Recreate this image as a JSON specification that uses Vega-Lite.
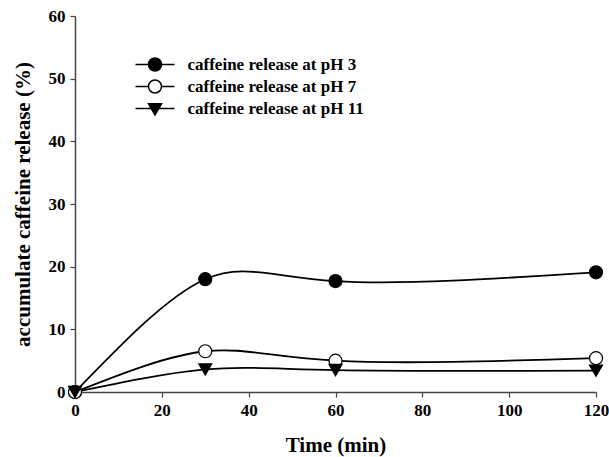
{
  "$schema": "https://vega.github.io/schema/vega-lite/v6.json",
  "width": 521,
  "height": 376,
  "autosize": "none",
  "padding": {"left": 75, "top": 16, "right": 13, "bottom": 65},
  "background": "white",
  "config": {
    "view": {"stroke": null},
    "font": "Liberation Serif",
    "axis": {
      "domainColor": "#444",
      "domainWidth": 1.5,
      "tickColor": "#444",
      "tickWidth": 1.2,
      "tickSize": 5,
      "grid": false,
      "labelFlush": false,
      "labelFont": "Liberation Serif",
      "labelFontWeight": "bold",
      "labelFontSize": 17,
      "labelColor": "black",
      "titleFont": "Liberation Serif",
      "titleFontWeight": "bold",
      "titleFontSize": 21,
      "titleColor": "black"
    },
    "legend": {
      "orient": "none",
      "legendX": 71.5,
      "legendY": 40,
      "padding": 0,
      "symbolSize": 169,
      "symbolStrokeWidth": 1.5,
      "labelOffset": 24,
      "labelFont": "Liberation Serif",
      "labelFontWeight": "bold",
      "labelFontSize": 17,
      "labelColor": "black",
      "rowPadding": 3,
      "labelLimit": 400
    }
  },
  "data": {
    "values": [
      {"time": 0, "release": 0, "series": "caffeine release at pH 3"},
      {"time": 30, "release": 18.0, "series": "caffeine release at pH 3"},
      {"time": 60, "release": 17.7, "series": "caffeine release at pH 3"},
      {"time": 120, "release": 19.1, "series": "caffeine release at pH 3"},
      {"time": 0, "release": 0, "series": "caffeine release at pH 7"},
      {"time": 30, "release": 6.5, "series": "caffeine release at pH 7"},
      {"time": 60, "release": 5.0, "series": "caffeine release at pH 7"},
      {"time": 120, "release": 5.4, "series": "caffeine release at pH 7"},
      {"time": 0, "release": 0, "series": "caffeine release at pH 11"},
      {"time": 30, "release": 3.6, "series": "caffeine release at pH 11"},
      {"time": 60, "release": 3.5, "series": "caffeine release at pH 11"},
      {"time": 120, "release": 3.4, "series": "caffeine release at pH 11"}
    ]
  },
  "encoding": {
    "x": {
      "field": "time",
      "type": "quantitative",
      "scale": {"domain": [0, 120], "nice": false},
      "axis": {"values": [0, 20, 40, 60, 80, 100, 120], "title": "Time (min)", "labelPadding": 5, "titlePadding": 16}
    },
    "y": {
      "field": "release",
      "type": "quantitative",
      "scale": {"domain": [0, 60], "nice": false},
      "axis": {"values": [0, 10, 20, 30, 40, 50, 60], "title": "accumulate caffeine release (%)", "labelPadding": 5, "titlePadding": 15}
    }
  },
  "layer": [
    {
      "mark": {"type": "line", "interpolate": "natural", "color": "black", "strokeWidth": 1.8},
      "encoding": {"detail": {"field": "series"}}
    },
    {
      "mark": {"type": "point", "filled": true, "size": 169, "stroke": "black", "strokeWidth": 1.2, "opacity": 1},
      "encoding": {
        "shape": {
          "field": "series",
          "scale": {
            "domain": ["caffeine release at pH 3", "caffeine release at pH 7", "caffeine release at pH 11"],
            "range": ["circle", "circle", "triangle-down"]
          },
          "legend": null
        },
        "fill": {
          "field": "series",
          "scale": {
            "domain": ["caffeine release at pH 3", "caffeine release at pH 7", "caffeine release at pH 11"],
            "range": ["black", "white", "black"]
          },
          "legend": null
        }
      }
    },
    {
      "transform": [{"filter": {"field": "time", "lt": 0}}],
      "mark": {"type": "point", "filled": true, "size": 169, "stroke": "black", "strokeWidth": 1.5, "opacity": 1},
      "encoding": {
        "shape": {
          "field": "series",
          "scale": {
            "domain": ["caffeine release at pH 3", "caffeine release at pH 7", "caffeine release at pH 11"],
            "range": [
              "M-3,0L-1,0M1,0L3,0M-1,0A1,1,0,1,1,1,0A1,1,0,1,1,-1,0Z",
              "M-3,0L-1,0M1,0L3,0M-1,0A1,1,0,1,1,1,0A1,1,0,1,1,-1,0Z",
              "M-3,0L3,0M-1,-0.75L1,-0.75L0,1Z"
            ]
          },
          "legend": {"title": null}
        },
        "fill": {
          "field": "series",
          "scale": {
            "domain": ["caffeine release at pH 3", "caffeine release at pH 7", "caffeine release at pH 11"],
            "range": ["black", "white", "black"]
          },
          "legend": {"title": null}
        }
      }
    }
  ],
  "resolve": {"scale": {"shape": "independent", "fill": "independent"}, "legend": {"shape": "independent", "fill": "independent"}}
}
